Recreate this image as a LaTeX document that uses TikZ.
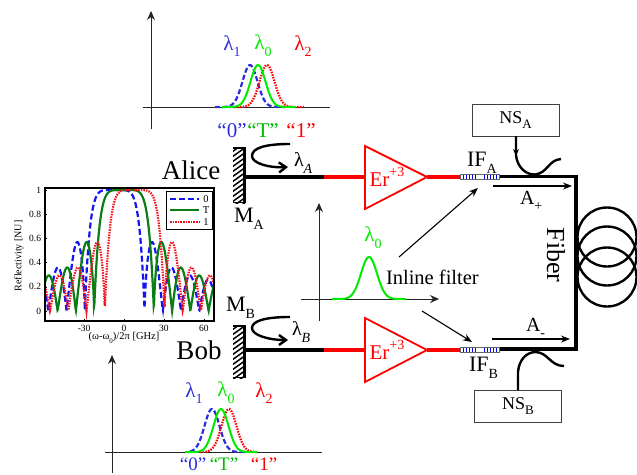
\documentclass[tikz,border=0pt]{standalone}
\usepackage{fontspec}
\setmainfont{Liberation Serif}
\usetikzlibrary{arrows.meta}
\definecolor{gblue}{RGB}{45,45,220}
\definecolor{ggreen}{RGB}{0,235,0}
\definecolor{pblue}{RGB}{20,20,245}
\definecolor{pgreen}{RGB}{10,125,20}
\definecolor{pred}{RGB}{245,20,30}
\newcommand\fsz[1]{\fontsize{#1}{#1}\selectfont}
\newcommand\lowt[2]{\raisebox{-.32em}{\fontsize{#1}{#1}\selectfont #2}}
\pgfmathdeclarefunction{rfl}{1}{\pgfmathparse{abs(#1)<22.5 ? 1-(abs(#1)/22.5)^6 : 0.55*(6.85/(abs(abs(#1)-22.49)+0.01))^0.39*abs(sin(180*(abs(#1)-22.5)/13.7))}}
\pgfmathdeclarefunction{gss}{3}{\pgfmathparse{exp(-((#1-#2)^2)/(2*#3*#3))}}
\tikzset{
  x=1pt,y=-1pt,
  axisline/.style={line width=1pt,black!85,-{Stealth[length=9pt,width=8pt]}},
  plainaxis/.style={line width=1pt,black!85},
  fiberblack/.style={line width=3.2pt,black},
  fiberred/.style={line width=3.2pt,red},
  amp/.style={draw=red,line width=1.8pt},
  curvearrow/.style={line width=2.4pt,black,-{Straight Barb[length=7pt,width=10pt]}},
  thinarrow/.style={line width=1.1pt,black,-{Stealth[length=9pt,width=7pt]}},
  label/.style={inner sep=0pt,outer sep=0pt},
  nsbox/.style={draw=black!75,line width=0.9pt,fill=white,inner sep=0pt,minimum width=87pt,minimum height=32pt},
  gaubl/.style={line width=2.2pt,gblue,dash pattern=on 5pt off 2.5pt},
  gaugr/.style={line width=2pt,ggreen},
  gaure/.style={line width=2.2pt,red,dash pattern=on 1.5pt off 1.2pt},
  plbl/.style={line width=2.2pt,pblue,dash pattern=on 6pt off 3pt},
  plgr/.style={line width=2.2pt,pgreen},
  plre/.style={line width=2.2pt,pred,dash pattern=on 1.5pt off 1.1pt},
}
\begin{document}
\begin{tikzpicture}
\useasboundingbox (0,0) rectangle (637,474);
\clip (0,0) rectangle (637,474);
% ---------- top spectrum
\coordinate (t1) at (151,129); \coordinate (t2) at (151,11);
\coordinate (t3) at (143,107); \coordinate (t4) at (330,107);
\draw[axisline] (t1) -- (t2);
\draw[plainaxis] (t3) -- (t4);
\draw[gaubl] plot[domain=215:285,samples=60] ({\x},{107-42*gss(\x,250,7.5)});
\draw[gaure] plot[domain=232:305,samples=60] ({\x},{107-42*gss(\x,267,7.5)});
\draw[gaugr] plot[domain=222:296,samples=60] ({\x},{107-42*gss(\x,258,7.5)});
\node[label,gblue,font=\fsz{21}] (tl1) at (232,46) {λ\lowt{14}{1}};
\node[label,ggreen,font=\fsz{21}] (tl0) at (263,46) {λ\lowt{14}{0}};
\node[label,red,font=\fsz{21}] (tl2) at (303,46) {λ\lowt{14}{2}};
\node[label,gblue,font=\fsz{21},anchor=base] (tq0) at (232,137) {“0”};
\node[label,ggreen!80!black,font=\fsz{21},anchor=base] (tqT) at (263,137) {“T”};
\node[label,red,font=\fsz{21},anchor=base] (tq1) at (301,137) {“1”};
% ---------- bottom spectrum
\coordinate (b1) at (112,473); \coordinate (b2) at (112,355);
\coordinate (b3) at (105,452); \coordinate (b4) at (322,452);
\draw[axisline] (b1) -- (b2);
\draw[plainaxis] (b3) -- (b4);
\draw[gaubl] plot[domain=190:247,samples=60] ({\x},{452-43*gss(\x,212,7.5)});
\draw[gaure] plot[domain=200:258,samples=60] ({\x},{452-43*gss(\x,229,7.5)});
\draw[gaugr] plot[domain=185:257,samples=60] ({\x},{452-43*gss(\x,221,7.5)});
\node[label,gblue,font=\fsz{21}] (bl1) at (194,393) {λ\lowt{14}{1}};
\node[label,ggreen,font=\fsz{21}] (bl0) at (226,393) {λ\lowt{14}{0}};
\node[label,red,font=\fsz{21}] (bl2) at (264,393) {λ\lowt{14}{2}};
\node[label,gblue,font=\fsz{19},anchor=base] (bq0) at (193,470) {“0”};
\node[label,ggreen!80!black,font=\fsz{19},anchor=base] (bqT) at (224,470) {“T”};
\node[label,red,font=\fsz{19},anchor=base] (bq1) at (264,470) {“1”};
% ---------- reflectivity plot
\begin{scope}
\clip (45,188) rectangle (214,321);
\draw[plbl] plot[domain=-60:68,samples=500] ({124+1.33*\x},{311-121*rfl(\x+7)});
\draw[plgr] plot[domain=-60:68,samples=500] ({124+1.33*\x},{311-121*rfl(\x)});
\draw[plre] plot[domain=-60:68,samples=500] ({124+1.33*\x},{311-121*rfl(\x-8)});
\end{scope}
\draw[line width=1.2pt,black] (45,188) rectangle (214,321);
\foreach \v/\t in {0/0,0.2/0.2,0.4/0.4,0.6/0.6,0.8/0.8,1/1}{
  \node[label,font=\fsz{9.5},anchor=east] at (41,{311-121*\v}) {\t};
  \draw[line width=0.4pt] (45,{311-121*\v}) -- (47,{311-121*\v});
}
\foreach \v/\t in {-30/-30,0/0,30/30,60/60}{
  \node[label,font=\fsz{9.5},anchor=base] at ({124+1.33*\v},331) {\t};
  \draw[line width=0.4pt] ({124+1.33*\v},321) -- ({124+1.33*\v},319);
}
\node[label,font=\fsz{10},rotate=90] (ylab) at (19,256) {Reflectivity [NU]};
\node[label,font=\fsz{10.5}] (xlab) at (124,338) {(ω-ω\lowt{7}{0})/2π [GHz]};
\draw[line width=1pt,black,fill=white] (166,191) rectangle (212,229);
\coordinate (lg1) at (170,199); \coordinate (lg1e) at (199,199);
\coordinate (lg2) at (170,210); \coordinate (lg2e) at (199,210);
\coordinate (lg3) at (170,222); \coordinate (lg3e) at (199,222);
\draw[plbl] (lg1) -- (lg1e);
\draw[plgr] (lg2) -- (lg2e);
\draw[plre] (lg3) -- (lg3e);
\node[label,font=\fsz{10.5}] at (206,199) {0};
\node[label,font=\fsz{10.5}] at (206,210) {T};
\node[label,font=\fsz{10.5}] at (206,222) {1};
% ---------- Alice / Bob
\node[label,font=\fsz{27}] (alice) at (191,170) {Alice};
\node[label,font=\fsz{27}] (bob) at (199,350) {Bob};
\foreach \yt/\yb/\nm in {147/203/ma,325/378/mb}{
  \begin{scope}
  \clip (233,\yt) rectangle (245,\yb);
  \foreach \k in {-10,-5,...,70}{
    \draw[line width=1.5pt,black] (232,{\yt+\k+10}) -- (246,{\yt+\k});
  }
  \end{scope}
  \fill[black] (242.5,\yt) rectangle (245.5,\yb);
  \fill[black] (233,\yt) rectangle (245.5,{\yt+1.5});
  \fill[black] (233,{\yb-1.5}) rectangle (245.5,\yb);
  \coordinate (\nm) at (245,{(\yt+\yb)/2});
}
\coordinate (aj) at (324,177); \coordinate (bj) at (324,350);
\coordinate (ma0) at (245,177); \coordinate (mb0) at (245,350);
\node[label,font=\fsz{22},anchor=west] (MA) at (234,219) {M\lowt{14}{A}};
\node[label,font=\fsz{22},anchor=west] (MB) at (226,308) {M\lowt{14}{B}};
\draw[curvearrow] (290,144) .. controls (265,144) and (252,148) .. (252,156) .. controls (252,163) and (268,168) .. (288,167);
\draw[curvearrow] (290,317) .. controls (265,317) and (252,321) .. (252,328) .. controls (252,335) and (268,340) .. (288,340);
\node[label,font=\fsz{20},anchor=west] (lA) at (294,163) {λ\lowt{14}{\itshape A}};
\node[label,font=\fsz{20},anchor=west] (lB) at (292,332) {λ\lowt{14}{\itshape B}};
% ---------- amplifiers
\draw[amp] (365,146) -- (365,209) -- (427,177) -- cycle;
\draw[amp] (365,318) -- (365,382) -- (427,350) -- cycle;
\coordinate (a1) at (365,177); \coordinate (a2) at (427,177);
\coordinate (b1x) at (365,350); \coordinate (b2x) at (427,350);
\node[label,red,font=\fsz{21}] (er1) at (387,177) {Er\raisebox{.45em}{\fsz{14}+3}};
\node[label,red,font=\fsz{21}] (er2) at (387,350) {Er\raisebox{.45em}{\fsz{14}+3}};
\coordinate (ga) at (460,177); \coordinate (gb) at (460,350);
\draw[fiberblack] (ma0) -- (aj);
\draw[fiberblack] (mb0) -- (bj);
\draw[fiberred] (aj) -- (a1);
\draw[fiberred] (bj) -- (b1x);
\draw[fiberred] (a2) -- (ga);
\draw[fiberred] (b2x) -- (gb);
% ---------- fiber path
\coordinate (fa) at (499,176.5); \coordinate (fb) at (499,349);
\coordinate (fc1) at (576,176.5); \coordinate (fc2) at (576,349);
\draw[line width=3.4pt,black,line join=miter] (fa) -- (fc1) -- (fc2) -- (fb);
% gratings
\foreach \yy in {177,350}{
  \draw[black!60,fill=white,line width=.8pt] (460,{\yy-3}) rectangle (499,{\yy+2.5});
  \foreach \xx in {463,466,...,477,484,487,...,496}{
    \draw[blue,line width=1pt] (\xx,{\yy-2.5}) -- (\xx,{\yy+2});
  }
}
\node[label,font=\fsz{22},anchor=west] (IFA) at (467,163) {IF\lowt{14}{A}};
\node[label,font=\fsz{22},anchor=west] (IFB) at (469,368) {IF\lowt{14}{B}};
% ---------- noise sources
\node[nsbox,font=\fsz{18}] (NSA) at (515.5,120) {NS\lowt{13}{A}};
\node[nsbox,font=\fsz{18}] (NSB) at (518,406) {NS\lowt{13}{B}};
\coordinate (ca) at (561,159); \coordinate (cb) at (564,366);
\draw[line width=2.4pt,black] (516,136) -- (516,155) .. controls (517,167) and (526,175) .. (535,174.5) .. controls (548,173) and (548,160) .. (ca);
\draw[line width=2.4pt,black] (518,390) -- (518,372) .. controls (519,360) and (526,352.5) .. (535,352) .. controls (548,352) and (550,366) .. (cb);
\draw[black,-{Stealth[length=7pt,width=6pt]},line width=1pt] (516,145) -- (516,156);
% ---------- A+ / A-
\coordinate (ap1) at (493,186); \coordinate (ap2) at (572,186);
\coordinate (am1) at (492,339); \coordinate (am2) at (570,339);
\draw[thinarrow] (ap1) -- (ap2);
\draw[thinarrow] (am1) -- (am2);
\node[label,font=\fsz{20},anchor=west] (Ap) at (520,201) {A\lowt{14}{+}};
\node[label,font=\fsz{20},anchor=west] (Am) at (526,328) {A\lowt{14}{-}};
% ---------- coil
\foreach \cy in {237,256,277}{
  \draw[line width=2.4pt,black] (607,\cy) circle[radius=29.5];
}
\node[label,font=\fsz{26},rotate=-90] (fiber) at (556,255) {Fiber};
% ---------- inline filter
\coordinate (c1) at (319,321); \coordinate (c2) at (319,203);
\coordinate (c3) at (301,299); \coordinate (c4) at (439,299);
\draw[axisline] (c1) -- (c2);
\draw[axisline] (c3) -- (c4);
\draw[gaugr] plot[domain=332:406,samples=70] ({\x},{299-42*gss(\x,369,8)});
\node[label,ggreen,font=\fsz{21}] (cl0) at (373,238) {λ\lowt{14}{0}};
\node[label,font=\fsz{20.5},anchor=west] (inl) at (386,277) {Inline filter};
\coordinate (f1) at (399,257); \coordinate (f2) at (478,188);
\coordinate (f3) at (422,311); \coordinate (f4) at (472,342);
\draw[thinarrow] (f1) -- (f2);
\draw[thinarrow] (f3) -- (f4);
\end{tikzpicture}
\end{document}
